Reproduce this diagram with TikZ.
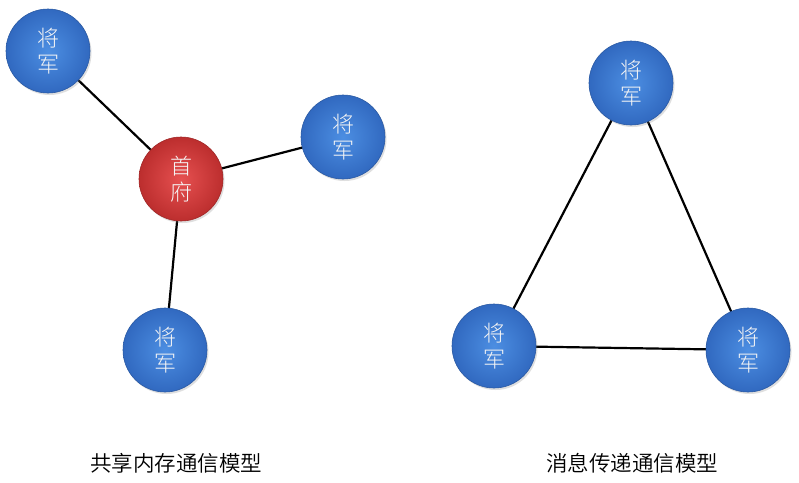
\documentclass[tikz,border=0pt]{standalone}
\usepackage{fontspec}
\newfontfamily\cjk{Noto Sans CJK SC Light}
\newfontfamily\cjkcap{Noto Sans CJK SC DemiLight}
\usetikzlibrary{shadows}
\definecolor{bluein}{HTML}{4C8EE2}
\definecolor{blueout}{HTML}{3169C0}
\definecolor{redin}{HTML}{E65050}
\definecolor{redout}{HTML}{BC2E2E}
\tikzset{
  ball/.style={circle, minimum size=84pt, inner sep=0pt, draw=#1out!85!black, line width=0.6pt,
    inner color=#1in, outer color=#1out, text=white!92!gray, font=\cjk\fontsize{22}{26}\selectfont, align=center,
    drop shadow={shadow xshift=1.5pt, shadow yshift=-2pt, opacity=0.25}},
  link/.style={line width=2.2pt, black},
  caption/.style={font=\cjkcap\fontsize{21.5}{24}\selectfont, text=black}
}
\begin{document}
\begin{tikzpicture}[x=1pt,y=-1pt]
\useasboundingbox[fill=white] (0,0) rectangle (799,482);
\coordinate (pg1) at (48,51);
\coordinate (pg2) at (343,137);
\coordinate (pcap) at (181,179);
\coordinate (pg3) at (165,350);
\coordinate (pt1) at (631,83);
\coordinate (pt2) at (494,346);
\coordinate (pt3) at (748,350);
\draw[link] (pg1) -- (pcap);
\draw[link] (pg2) -- (pcap);
\draw[link] (pg3) -- (pcap);
\draw[link] (pt1) -- (pt2) -- (pt3) -- cycle;
\node[ball=blue] (g1) at (pg1) {将\\军};
\node[ball=blue] (g2) at (pg2) {将\\军};
\node[ball=red] (cap) at (pcap) {首\\府};
\node[ball=blue] (g3) at (pg3) {将\\军};
\node[ball=blue] (t1) at (pt1) {将\\军};
\node[ball=blue] (t2) at (pt2) {将\\军};
\node[ball=blue] (t3) at (pt3) {将\\军};
\node[caption] (c1) at (176,463) {共享内存通信模型};
\node[caption] (c2) at (632,463) {消息传递通信模型};
\end{tikzpicture}
\end{document}
